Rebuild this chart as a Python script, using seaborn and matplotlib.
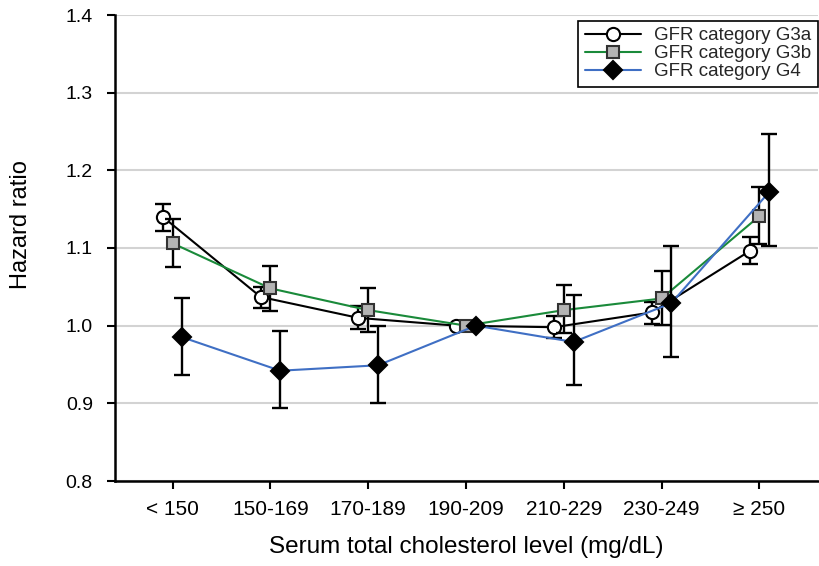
import matplotlib
matplotlib.use("Agg")
import matplotlib.pyplot as plt
import seaborn as sns
import pandas as pd
import numpy as np

categories = ["< 150", "150-169", "170-189", "190-209", "210-229", "230-249", "\u2265 250"]

g3a_hr = [1.140, 1.037, 1.010, 1.000, 0.998, 1.017, 1.096]
g3a_lo = [1.122, 1.023, 0.996, 1.000, 0.984, 1.002, 1.079]
g3a_hi = [1.157, 1.050, 1.025, 1.000, 1.012, 1.030, 1.114]

g3b_hr = [1.106, 1.048, 1.020, 1.000, 1.020, 1.035, 1.141]
g3b_lo = [1.075, 1.019, 0.992, 1.000, 0.990, 1.001, 1.105]
g3b_hi = [1.137, 1.077, 1.049, 1.000, 1.052, 1.070, 1.178]

g4_hr = [0.985, 0.942, 0.949, 1.000, 0.979, 1.029, 1.172]
g4_lo = [0.936, 0.894, 0.901, 1.000, 0.924, 0.960, 1.102]
g4_hi = [1.035, 0.993, 1.000, 1.000, 1.040, 1.102, 1.247]

series_names = ["GFR category G3a", "GFR category G3b", "GFR category G4"]

sns.set_theme(style="white")
plt.rcParams["font.family"] = ["Liberation Sans", "DejaVu Sans"]

fig = plt.figure(figsize=(8.2, 5.66), dpi=100)
ax = fig.add_axes([115/820, 1 - 481/566, 703/820, 466/566])

styles = [
    dict(color="black", marker="o", mfc="white", mec="black", ms=9.5, offset=-0.1),
    dict(color="#1a8a3a", marker="s", mfc="#b4b4b4", mec="#333333", ms=8.5, offset=0.0),
    dict(color="#3f6fc4", marker="D", mfc="black", mec="black", ms=9.0, offset=0.1),
]
data = [(g3a_hr, g3a_lo, g3a_hi), (g3b_hr, g3b_lo, g3b_hi), (g4_hr, g4_lo, g4_hi)]

idx = np.arange(len(categories))
for k, (name, st, (hr, lo, hi)) in enumerate(zip(series_names, styles, data)):
    x = idx + st["offset"]
    hr = np.array(hr); lo = np.array(lo); hi = np.array(hi)
    mask = (hi - lo) > 0
    ax.errorbar(x[mask], hr[mask], yerr=[hr[mask] - lo[mask], hi[mask] - hr[mask]],
                fmt="none", ecolor="black", elinewidth=1.7, capsize=6, capthick=1.7,
                zorder=3 + 2 * k)
    df = pd.DataFrame({"x": x, "hr": hr})
    sns.lineplot(data=df, x="x", y="hr", ax=ax, color=st["color"], lw=1.5,
                 marker=st["marker"], markersize=st["ms"],
                 markerfacecolor=st["mfc"], markeredgecolor=st["mec"],
                 markeredgewidth=1.5, label=name, zorder=4 + 2 * k)

ax.set_xlim(-0.59, 6.6)
ax.set_ylim(0.8, 1.4)
ax.set_yticks(np.arange(0.8, 1.41, 0.1))
ax.set_yticklabels([f"{v:.1f}" for v in np.arange(0.8, 1.41, 0.1)])
ax.set_xticks(idx)
ax.set_xticklabels(categories)
ax.yaxis.grid(True, color="#d3d3d3", lw=1.5)
ax.set_axisbelow(True)
for s in ["top", "right"]:
    ax.spines[s].set_visible(False)
for s in ["left", "bottom"]:
    ax.spines[s].set_color("black")
    ax.spines[s].set_linewidth(1.8)
ax.tick_params(axis="both", which="major", direction="out", length=6, width=1.5,
               color="black", labelcolor="black", left=True, bottom=True)
ax.tick_params(axis="y", labelsize=14, pad=10)
ax.tick_params(axis="x", labelsize=15, pad=8)
ax.set_xlabel("Serum total cholesterol level (mg/dL)", fontsize=17.5, labelpad=12, color="black")
ax.set_ylabel("Hazard ratio", fontsize=17, color="black")
ax.yaxis.set_label_coords(-0.118, 0.55)

leg = ax.legend(loc="upper right", bbox_to_anchor=(1.0, 0.988), fontsize=13.5,
                frameon=True, fancybox=False, edgecolor="black", framealpha=1,
                handlelength=3.0, borderpad=0.35, labelspacing=0.05, handletextpad=0.7,
                borderaxespad=0.0)
leg.get_frame().set_linewidth(1.2)

fig.savefig("out.png", dpi=100)
